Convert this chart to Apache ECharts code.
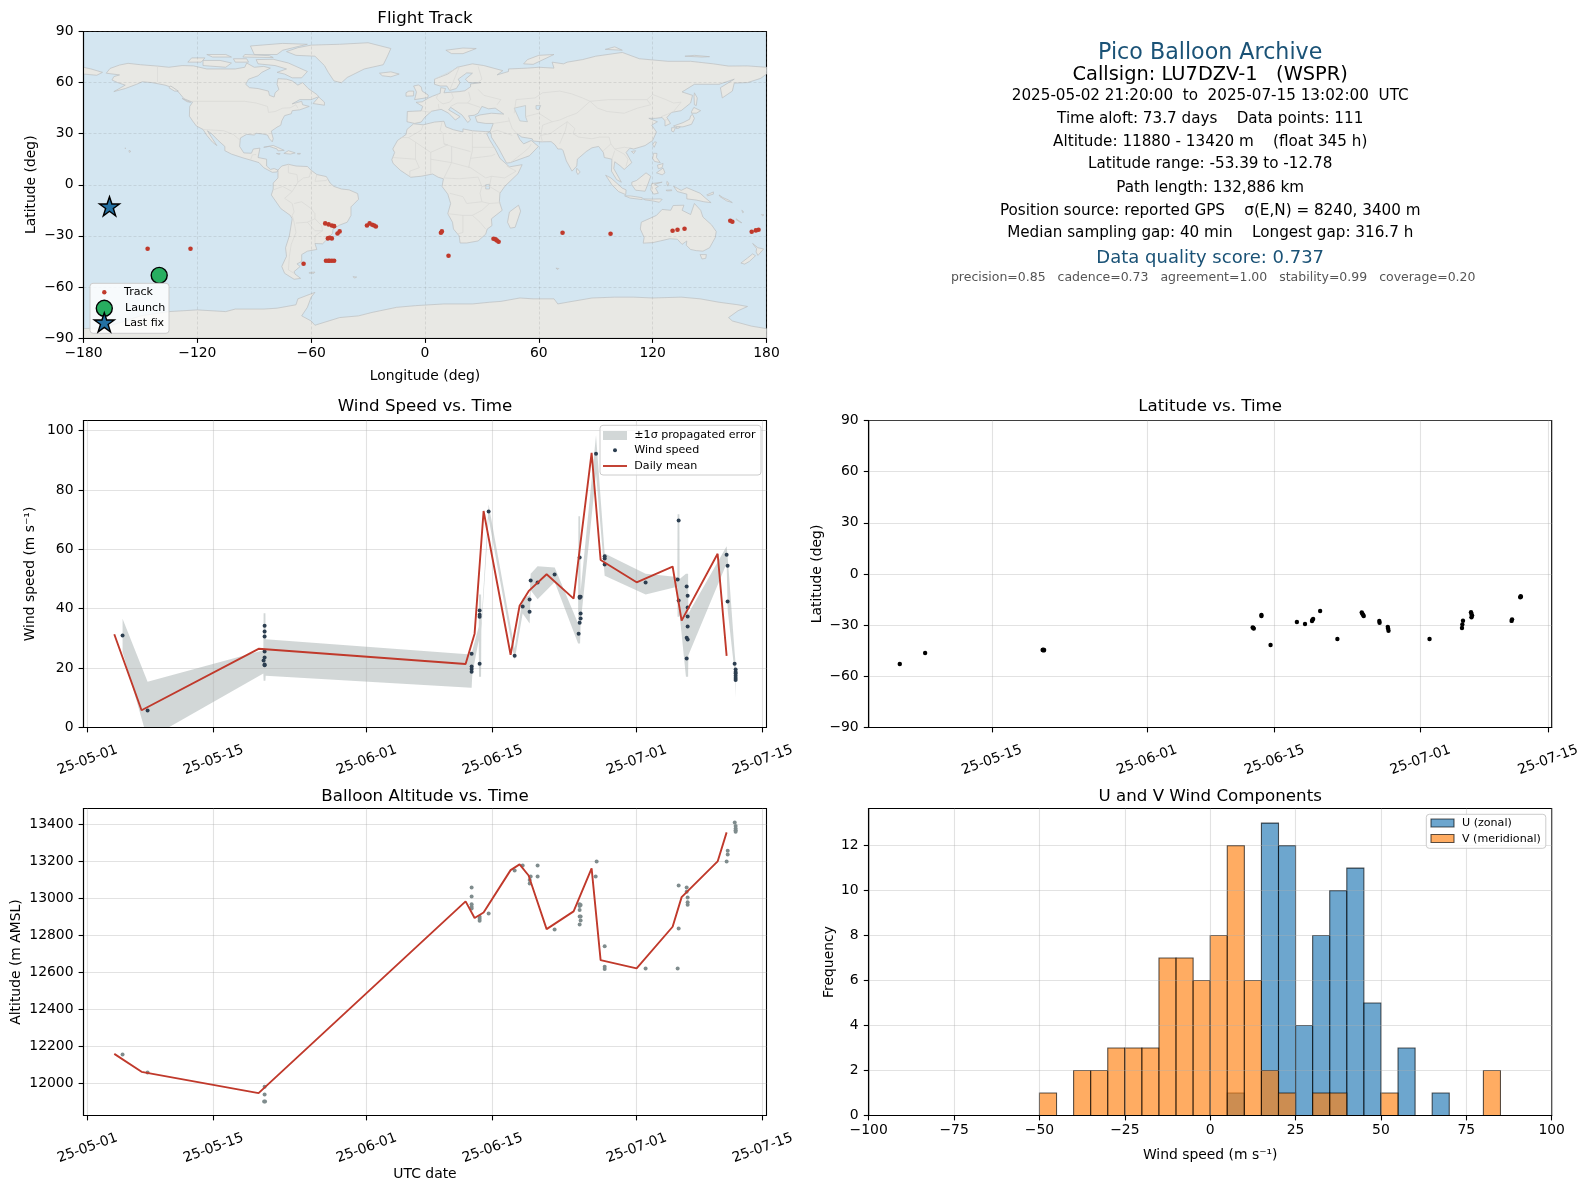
<!DOCTYPE html>
<html>
<head>
<meta charset="utf-8">
<style>html,body{margin:0;padding:0;background:#fff}#c{width:1589px;height:1189px}</style>
<script src="https://cdn.jsdelivr.net/npm/echarts@6/dist/echarts.min.js"></script>
</head>
<body>
<div id="c"></div>
<script>
// ---------- tick labels ----------
const dateTicks = ['2025-05-01','2025-05-15','2025-06-01','2025-06-15','2025-07-01','2025-07-15'];
const lonTicks = [-180,-120,-60,0,60,120,180];
const latTicks = [-90,-60,-30,0,30,60,90];
const windTicks = [0,20,40,60,80,100];
const altTicks = [12000,12200,12400,12600,12800,13000,13200,13400];
const countTicks = [0,2,4,6,8,10,12];
const speedTicks = [-100,-75,-50,-25,0,25,50,75,100];

// ---------- flight track (lon, lat) ----------
const trackLon = [-146.2,-123.6,-64,-52.6,-50.8,-49.1,-47.9,-51.2,-49.1,-50.3,-46.1,-45,-52.2,-51,-50.3,-49.1,-47.9,-30.6,-29.2,-27.8,-25.9,-26.8,8.4,8.9,12.4,36.1,37.2,37.9,38.8,72.5,97.8,130.5,133.1,136.8,160.9,162,172.2,174.4,175.8];
const trackLat = [-37.6,-37.6,-46.4,-22.7,-23.3,-23.9,-24.3,-31.5,-31.5,-31.1,-28.6,-27.4,-44.6,-44.6,-44.6,-44.6,-44.6,-23.9,-22.7,-23.5,-24.5,-23.9,-28.2,-27.4,-41.7,-31.7,-32.1,-32.7,-33.5,-28.2,-28.8,-27,-26.4,-25.8,-21.1,-21.7,-27.6,-26.8,-26.4];
const launchFix = [-140.1,-53.2];
const lastFix = [-166.3,-13.1];

// ---------- wind speed: samples, days after 2025-05-01 ----------
const windDays = [3.89,6.67,19.67,19.67,19.67,19.67,19.67,19.56,19.67,19.67,42.67,42.67,42.67,42.67,43.56,43.56,43.56,43.56,44.56,47.45,48.34,49.11,49.11,49.23,50,51.89,54.56,54.67,54.78,54.78,54.67,54.78,54.67,54.67,56.49,57.45,57.45,57.45,62,65.56,65.67,65.67,66.56,66.67,66.67,66.67,66.67,66.67,66.56,66.56,71,71.11,71.11,71.89,72,72,72,72,72,72];
const windSpeed = [31,5.7,34.3,32.3,30.6,25.6,23.6,22.6,21.2,21,24.8,20.5,19.7,18.8,39.4,38,37.3,21.5,72.7,24.2,40.7,43.1,39,49.5,48.8,51.5,31.6,35.3,36.7,38.4,44,44,43.7,57.2,92.2,54.9,56.9,57.7,48.8,49.8,69.7,42.75,30.2,29.6,34,37.4,40.4,44.4,47.5,23.2,58.2,54.5,42.4,21.5,19.5,18.7,18.2,17.4,16.7,16];
// daily mean of wind speed
const meanDays = [2.97,6,19,42,43,44,47,48,49,51,54,56,57,61,65,66,70,71];
const windMean = [31.4,5.8,26.5,21.4,31.6,72.9,24.5,41,45.9,51.6,43.4,92.5,56.4,48.9,54.2,36,58.5,24.1];
// +/- 1 sigma band
const bandDays = [3.89,6.67,19.53,19.56,19.76,19.79,42.6,42.67,42.75,43.46,43.49,43.72,43.75,44.56,47.45,48.34,49.12,49.23,50,51.9,54.5,54.53,54.72,54.78,56.49,57.45,62,65.52,65.55,65.75,65.78,66.48,66.72,66.75,71,71.12,71.9,72];
const bandLow = [25.4,-4,18.2,15.7,15.7,17.4,13.35,13.35,18,29.4,17.1,17.1,32.8,70.4,22.7,38.4,35,46.2,43.2,49,28.3,28.3,28.3,35,85.5,51.1,44.8,47.4,37.3,37.3,38,17.1,17.1,24.35,55.2,39.5,18.2,10.1];
const bandHigh = [36.6,15.4,26,38.5,38.5,29.7,24.57,24.57,26,33.9,44.8,44.8,35,75.1,26.6,43.4,44.55,51.8,54.3,53.9,35,71.1,71.1,46,98.4,58.6,51.8,50.7,71.8,71.8,50,51.8,51.8,38.4,61,57.4,24.9,21.6];

// ---------- latitude vs time ----------
const latDays = [3.89,6.67,19.56,19.62,19.67,19.72,42.6,42.67,42.72,43.56,43.56,44.56,47.45,48.34,49.11,49.15,49.23,50,51.89,54.56,54.62,54.7,54.78,56.49,56.52,57.42,57.45,57.5,62,65.56,65.6,65.67,66.55,66.6,66.67,66.6,71,71.05,71.95,72,72.02];
const latValue = [-52.8,-46.3,-44.6,-44.4,-44.8,-44.6,-31.3,-31.7,-32,-24.05,-24.6,-41.6,-28.15,-29.3,-27.6,-27,-26.4,-21.7,-38.1,-22.6,-23.2,-23.9,-24.6,-27.6,-28.6,-31,-31.9,-33.3,-38.1,-31.7,-29.6,-27.4,-22.4,-23.4,-24.4,-25.4,-27.5,-26.6,-13.6,-13,-13.4];

// ---------- altitude vs time ----------
const altDays = [3.89,6.67,19.67,19.67,19.62,19.72,42.67,42.67,42.67,42.67,42.67,43.56,43.56,43.56,44.56,47.45,48.34,49.12,49.12,49.23,50,50,51.89,54.67,54.67,54.78,54.67,54.78,54.67,54.78,54.67,56.56,56.45,57.45,57.45,57.45,62,65.67,65.67,65.56,66.56,66.56,66.67,66.67,66.67,71,71.12,71.12,71.9,72,72,72,72];
const altValue = [12157,12059,11982,11941,11903,11903,13059,13011,12968,12955,12945,12901,12890,12879,12919,13151,13178,13081,13099,13119,13178,13119,12832,12968,12959,12964,12937,12903,12903,12881,12859,13200,13119,12741,12631,12618,12622,13070,12838,12622,13059,13036,13005,12980,12966,13200,13258,13238,13411,13391,13378,13369,13360];
const altMeanDays = [2.97,6,19,42,43,44,47,48,49,51,54,56,57,61,65,66,70,71];
const altMean = [12160,12063,11948,12984,12894,12924,13153,13184,13124,12834,12930,13162,12667,12622,12847,13007,13200,13357];

// ---------- histogram: 5 m/s bins starting at -50 ----------
const binStarts = [-50,-45,-40,-35,-30,-25,-20,-15,-10,-5,0,5,10,15,20,25,30,35,40,45,50,55,60,65,70,75,80];
const uCounts = [0,0,0,0,0,0,0,0,0,0,0,1,0,13,12,4,8,10,11,5,0,3,0,1,0,0,0];
const vCounts = [1,0,2,2,3,3,3,7,7,6,8,12,6,2,1,0,1,1,0,0,1,0,0,0,0,0,2];

// ---------- text ----------
const headerLines = ['Pico Balloon Archive','Callsign: LU7DZV-1   (WSPR)','2025-05-02 21:20:00  to  2025-07-15 13:02:00  UTC','Time aloft: 73.7 days    Data points: 111','Altitude: 11880 - 13420 m    (float 345 h)','Latitude range: -53.39 to -12.78','Path length: 132,886 km','Position source: reported GPS    σ(E,N) = 8240, 3400 m','Median sampling gap: 40 min    Longest gap: 316.7 h','Data quality score: 0.737','precision=0.85   cadence=0.73   agreement=1.00   stability=0.99   coverage=0.20'];

// ---------- base map outlines (lon, lat) ----------
const landPolygons = [
 [[-168,65.5],[-166,68.3],[-161,70.3],[-156.5,71.3],[-150,70.5],[-141,69.7],[-135,69],[-128,70],[-122,69.8],[-115,68],[-108,68],[-100,68],[-95,69],[-94,71.5],[-90,69],[-85,69.5],[-81.5,68.5],[-86,66],[-88,64],[-93,62],[-94.5,59],[-92.5,57],[-88,56.5],[-82.5,55],[-82,52.5],[-79.5,51.5],[-79,54],[-77,56],[-78,59],[-77.5,62.3],[-73,62],[-70,61],[-67,58.5],[-64.5,60],[-61.5,56.5],[-57,53],[-56,51.7],[-60,50],[-66,50],[-70,47.5],[-65,49],[-64.5,47],[-61,46],[-66,44],[-70,43.5],[-70.5,41.7],[-74,40.6],[-75.5,37.5],[-76,35],[-78,33.8],[-81,31.5],[-80,27],[-80.5,25.2],[-82,27],[-83,29.2],[-85.5,29.8],[-89,30.2],[-90,29.2],[-94,29.6],[-97.3,27.5],[-97.7,22.5],[-95.5,18.7],[-91.5,18.5],[-90.5,21],[-87,21.5],[-88,16],[-83.5,15],[-83.5,11],[-81.5,9],[-79.5,9.5],[-77.5,8.6],[-78,7.5],[-80.5,7.3],[-85,10],[-87.5,13],[-92,14.5],[-96,15.8],[-102,18],[-105.5,20],[-105.5,22.5],[-109,26],[-112.5,30],[-114.7,31.7],[-112,27],[-109.7,23],[-112,25],[-115,29],[-117,32.5],[-120.5,34.5],[-122.5,37.5],[-124.2,40.3],[-124,46],[-122.5,48.5],[-127,50.5],[-130,54.5],[-133,57],[-137,58.5],[-144,60],[-149,60.5],[-152,59],[-158,56.5],[-164,54.7],[-158,58.5],[-162,60],[-165,61.5],[-164,63.5],[-161,64.5],[-168,65.5]],
 [[-73,78.2],[-68,76],[-58,75.5],[-53,70],[-51,66],[-48,61],[-44,59.9],[-41,63],[-32,68],[-22,70.5],[-20,75],[-18,80],[-30,83.4],[-45,82.5],[-60,82],[-67,80.5],[-73,78.2]],
 [[-80,73.7],[-72,71.5],[-67,69],[-62,66.5],[-65,62.8],[-70,62.8],[-74,65],[-78,66],[-73,68],[-79,70],[-88,71],[-89,73.5],[-80,73.7]],
 [[-117,70],[-105,69],[-102,71.5],[-108,73],[-117,73]],
 [[-125,72],[-118,72],[-116,74.5],[-123,74.5]],
 [[-90,76.5],[-78,76.5],[-75,79],[-62,82.5],[-75,83],[-92,81.5]],
 [[-96,75],[-80,74.7],[-82,75.8],[-95,76.5]],
 [[-112,75],[-102,75],[-105,76.5],[-115,76.5]],
 [[-100,72],[-93,72],[-94,74],[-101,74]],
 [[-59,47.7],[-53,46.7],[-53,48.5],[-56,51.5]],
 [[-85,22],[-80,23.1],[-74.2,20.2],[-77.5,19.9],[-78,21],[-82,22.5]],
 [[-74.4,18.4],[-72,20],[-68.4,18.7],[-71,18]],
 [[-67.2,18.4],[-65.7,18.4],[-65.8,18],[-67.2,18]],
 [[-78.3,18.4],[-76.3,18.2],[-77,17.8]],
 [[-156,20.2],[-155,19.6],[-155.8,19],[-156,19.7]],
 [[-158.2,21.6],[-157.7,21.4],[-158.1,21.3]],
 [[-134,58],[-130,55],[-132,55],[-135,57]],
 [[-128,50.7],[-123.5,48.4],[-125.5,48.8]],
 [[-77.5,8.6],[-75.5,11],[-72,12],[-68,11],[-62,10.7],[-60,8.5],[-57,6],[-52,4.8],[-50,1],[-48,-1],[-44,-2.5],[-40,-3],[-35.5,-5.2],[-35,-8.5],[-39,-13],[-39,-18],[-41,-22],[-45,-23.7],[-48.5,-26],[-48.7,-28.5],[-52,-32.5],[-54,-34.7],[-58,-34.5],[-57,-38],[-62,-39],[-65,-41],[-65,-45],[-67.5,-46.5],[-65.8,-48],[-69,-51],[-68.5,-52.5],[-65.5,-55],[-69,-55.5],[-74,-52],[-75.5,-48],[-73,-42],[-73.5,-37],[-71.5,-30],[-70,-20],[-71,-18],[-76,-14],[-81,-6],[-80,-2.5],[-80,1],[-77.5,4],[-77.5,7]],
 [[-61,-51.5],[-58,-51.3],[-58.5,-52],[-61,-52]],
 [[-6,35.8],[-1,35.2],[5,36.8],[10,37.3],[11,34],[15,32.3],[20,31],[20,32.8],[25,31.7],[32,31.2],[34.3,31.2],[32.5,30],[34,26.5],[37,21],[39.5,15.5],[43,12],[44.5,10.5],[51.2,11.8],[49,6.5],[42,-1],[39.5,-5],[39.2,-10],[40.7,-15],[35,-20],[35.3,-24],[32.8,-26],[32,-29],[28,-33],[22,-34.2],[18.5,-34.2],[18,-30],[15,-26],[14.5,-22],[12,-17],[13.5,-11],[12,-5.5],[9,-1],[9.7,3.5],[7,4.4],[4,6.3],[-2,5],[-7.5,4.4],[-13,8.5],[-16.8,12.5],[-17.5,14.7],[-16,19],[-17,21],[-14.5,26],[-10,29.5],[-9.5,32.5]],
 [[49.3,-12],[50.4,-15.5],[47.5,-25],[45,-25.5],[43.5,-22],[44.5,-16]],
 [[-9.5,37],[-9.3,43],[-2,43.4],[-1.2,46],[-4.7,48.4],[-1.5,48.7],[2,51],[4,52],[8,53.7],[8.3,57],[10.8,56.5],[10,54],[12,54.2],[18,54.7],[21,55.2],[24,57.5],[24,59.2],[29.5,60],[23,60],[21.3,62],[25,65.5],[22,65.7],[17.5,62],[18.5,60],[16.5,56.5],[13,55.4],[11.5,58],[8,58],[5,59],[5,62],[12,65],[17,69],[25,71],[31,70],[41,67],[38,64.5],[44,66.5],[44,68],[54,68.5],[60,69],[68,68.5],[67,72],[73,71],[75,72],[83,73.5],[90,75.5],[104,77.7],[113,74],[128,72.5],[140,72.5],[152,71],[160,69.7],[170,69.8],[180,69],[180,65],[177,62.5],[170,60],[163,59.7],[162,55],[156.7,51],[155.7,57],[163,62],[155,59],[142,59],[135.5,54.5],[141,52.5],[140,48],[135,43.5],[130,42.5],[127.5,39.5],[129.4,36],[126.5,34.5],[126.5,37.5],[125,39.5],[121.5,39],[118,39],[122.5,37],[119.5,35],[122,31],[120,26],[116,23],[110,21],[108,21.5],[106,19],[109,13],[105,9],[103,11],[100,13.5],[99.5,9.5],[103.5,1.5],[101,3],[98.3,8],[98.5,15],[94.5,16],[94,19],[91.5,22.5],[88,21.7],[85,19.5],[80.3,15],[80,11],[77.5,8],[74.5,14],[72.8,20],[72,21],[70,21],[68.5,23.5],[66.5,25.3],[61,25.2],[57,25.7],[56.5,27],[51,28],[48.5,30],[50,26.5],[52,24],[56,26],[59.8,22.5],[55,17],[45,13],[43,12.7],[39,21],[35,28],[34.9,29.5],[34.3,31.2],[36,36],[32,36],[27.5,36.8],[26.5,40],[29,41],[35,42],[41.5,41.5],[37,45],[33.5,44.6],[30,46],[28,42],[26,40.8],[23,40.5],[24,38],[22.5,36.6],[19.5,41],[13.5,45.5],[12.5,44],[18.5,40],[16,38],[12.5,42],[8.5,44.3],[3.5,43.2],[0,39.8],[-2,36.8],[-5.5,36]],
 [[-5.5,50],[1.5,51.2],[1.7,52.7],[-1.5,55],[-2,57.5],[-3.5,58.6],[-6,58],[-4.5,54.5],[-5,52]],
 [[-10,52],[-6,52.2],[-6,55],[-8.5,55],[-10,54]],
 [[-24,65.5],[-18,66.3],[-13.6,65],[-18,63.4],[-22.5,64]],
 [[11,79],[20,80.3],[27,80],[20,77],[14,77]],
 [[52,71],[57,70.7],[68,76.5],[60,76],[54,73.5]],
 [[95,79.5],[104,79],[100,81]],
 [[137,75.5],[146,75],[150,75.2],[142,76]],
 [[-180,65],[-173,64.3],[-170,66],[-176,68],[-180,69]],
 [[142,54],[143.5,51],[143,46.5],[142,47],[141.8,52]],
 [[141,41.3],[142,39],[140.5,35.5],[136,34],[132,34],[131,34.5],[136,36.5],[139.5,38.5],[140,40.5]],
 [[140.5,43],[141.7,45.4],[145.3,43.5],[143,42],[140.5,42]],
 [[130,33.5],[132,33.5],[131,31],[130,31.5]],
 [[132.5,34],[134.5,34],[134,33.3],[132.5,33]],
 [[121,25.2],[122,25],[120.8,22],[120,23.5]],
 [[108.8,19.5],[111,20],[110,18.3]],
 [[120.5,18.5],[122.3,18.4],[122,16],[124,13],[121,13.7],[120,15.5]],
 [[122,7],[125.5,9.8],[126.5,7],[125,5.8]],
 [[122.5,11.5],[125.5,12.5],[125,10],[123,9.5]],
 [[80,9.7],[81.8,7.5],[80.6,6],[79.8,7.5]],
 [[95.2,5.6],[98,4],[104,-2],[106,-3],[105.8,-5.8],[102,-4],[98.5,0]],
 [[105.2,-6.5],[108.5,-6.6],[114.5,-7.6],[114.5,-8.7],[108,-7.8]],
 [[109,1.5],[111.5,2.5],[116.5,7],[119,5],[117.7,1],[116,-3.8],[111,-3.2],[109,0]],
 [[119.5,0.7],[125,1.5],[121,0.3],[123,-1],[121.5,-2],[123,-5],[120.5,-5.5],[119,-3]],
 [[131,-0.8],[135,-3.3],[138,-1.7],[145,-5],[148,-8],[150.8,-10.5],[147,-10],[143,-9],[138,-8.3],[138,-5.5],[133,-4],[132,-2.5]],
 [[115,-8.3],[120,-8.4],[124,-8.3],[125,-8.6],[123.5,-10.3],[120,-9.5],[116,-8.9]],
 [[127,-3.2],[130,-3],[130,-3.5],[127.5,-3.6]],
 [[127.5,2],[128.5,1],[128,-0.8],[127.5,0.5]],
 [[148.5,-6],[152,-4.2],[152,-5.5],[149,-6.5]],
 [[155,-6],[157,-7.5],[160,-9],[162,-10.5],[159,-9.5],[155.5,-7]],
 [[164,-20],[167,-22.3],[166.5,-22.3],[164,-20.5]],
 [[167,-15],[168,-16],[167.5,-16.5]],
 [[177.3,-17.5],[178.6,-17.7],[178,-18.3]],
 [[114,-22],[122,-18],[125,-14.5],[129.5,-15],[130.8,-12.2],[136.5,-12],[135.5,-15],[140,-17.5],[142,-11],[145.3,-15],[146.5,-19],[151,-23.5],[153.5,-27.5],[153,-31],[150,-37],[146.5,-39],[143,-38.7],[140,-38],[137.7,-35.5],[138,-33],[135.5,-35],[133,-32],[129,-31.7],[124,-33],[120,-34],[115,-34.3],[115.5,-31],[113.5,-26]],
 [[145,-41],[148.3,-41],[148,-43.2],[146,-43.6]],
 [[172.7,-34.5],[175.5,-37],[178.5,-37.7],[175.5,-41.5],[174.5,-39.5],[174.8,-37.5]],
 [[172.7,-40.6],[174.2,-41.7],[171,-45],[168.5,-46.6],[166.5,-46],[170,-43]],
 [[69,-49],[70.5,-49.2],[70,-49.8]],
 [[-38,-54],[-36,-54.2],[-37,-54.8]],
 [[-180,-84.5],[-170,-84],[-158,-80],[-150,-77],[-135,-74.5],[-120,-73.5],[-105,-74.5],[-100,-73],[-85,-73],[-78,-72.5],[-68,-70.5],[-67,-67],[-58,-63.2],[-60,-66],[-62,-72],[-65,-77],[-60,-80],[-58,-82.5],[-45,-78],[-35,-77],[-28,-75],[-15,-72],[-5,-71],[10,-70],[25,-70],[34,-69],[40,-68.5],[50,-66.5],[57,-67],[68,-67],[70,-70],[75,-69],[88,-66.5],[100,-66],[110,-66],[120,-66.5],[135,-66],[145,-67],[155,-69],[165,-70.5],[170,-71.5],[165,-74],[160,-78],[162,-80],[172,-83],[180,-84.5],[180,-90],[-180,-90]]
];
const waterPolygons = [
 [[47,45],[53,46.5],[53,40],[54,37],[50,37.5],[49,40]],
 [[58.5,46.5],[61,46.5],[60,44],[58.5,44.5]],
 [[32,0],[34,0.3],[34,-2.5],[32,-2.5]]
];
const borderLines = [
 [[-141,69.7],[-141,60.3]],[[-123,49],[-95,49],[-89,48],[-83,46],[-82.5,42.5],[-79,43],[-75,45],[-71,45.2],[-68,47],[-67,45]],
 [[-117,32.5],[-106,31.7],[-101,29.5],[-97.3,26]],[[-92,14.5],[-91,17.5],[-89,17.8]],
 [[-70,-18],[-69,-22],[-68,-28],[-70.5,-35],[-71.5,-42],[-72,-50],[-69,-52]],[[-80,-3],[-75,-1],[-70,-4],[-74,-8],[-70,-11],[-69,-16],[-70,-18]],
 [[-72,12],[-72,7],[-67.5,6],[-67,1.5],[-70,-4]],[[-60,8.5],[-61,4.5],[-64,4],[-67,1.5]],[[-57,6],[-58,2],[-52,2.5],[-51,4]],
 [[-69,-11],[-65,-10],[-60,-14],[-58,-17],[-58,-20],[-62,-22],[-68,-22.5]],[[-58,-20],[-54.5,-24],[-54,-27],[-58,-27],[-62,-22]],[[-54,-27],[-58,-30],[-58,-34]],
 [[-8.7,27.7],[-2,32],[-1,35]],[[9,37],[8,32],[9.5,30],[10,24],[12,23.5]],[[12,23.5],[3,19],[-5,25],[-8.7,27.7],[-13,27.7]],[[25,31.7],[25,20],[24,15.5],[23,10]],[[25,22],[37,22]],
 [[10,24],[14,22.5],[24,19.5]],[[3,19],[3,15],[14,13],[14,22.5]],[[-17,16],[-5,15],[-5,25]],[[-5,15],[-3,10],[-8,8],[-8,5]],[[3,15],[3,6.5]],[[14,13],[10,4]],[[14,13],[24,10],[32,4],[35,5],[42,4],[48,8],[43,11]],
 [[24,15.5],[35,17],[37,18]],[[35,5],[34,-1],[39.5,-4.7]],[[34,-1],[30,-1],[29,-5],[30,-10],[34,-11],[40,-10.5]],[[13,-5],[20,-7],[22,-11],[30,-10]],[[12,-17],[20,-18],[25,-18],[30,-15],[34,-11]],
 [[20,-18],[20,-28],[17,-29]],[[25,-18],[29,-22],[32,-26]],[[10,4],[18,3.5],[28,4.5],[30,-1]],
 [[23,54.5],[24,50],[22.5,48],[29,45.5]],[[14,54],[15,51],[13,48.5],[9.5,47.5],[7.5,49],[6,51],[7,53.5]],[[-2,43.4],[3,42.5]],[[7.5,44],[7,47.5]],[[13.5,46],[17,48],[22.5,48]],[[13,55.4],[18,69]],[[5,62],[18,69]],
 [[28,69.5],[30,62],[28,60]],[[28,56],[31,52.5],[40,50],[38,47]],[[47,42],[48,50],[58,51],[62,54],[71,55],[77,53.5],[83,51],[87,49]],[[87,49],[97,50],[106,50],[117,50],[120,53],[127,50],[131,48],[135,48.5],[131,43]],
 [[87,49],[91,45],[96,43],[105,42],[112,45],[119,47],[117,50]],[[53,40],[60,42],[67,37],[62,35],[61,29],[62,25]],[[67,37],[71,38],[75,40],[80,42],[87,49]],[[75,37],[71,34],[66,30],[61,29]],[[75,37],[79,33],[78,30],[81,28],[88,27],[92,28],[97,28],[98,24],[94,20]],[[71,24],[74,32],[75,37]],
 [[48.5,30],[46,33],[44.5,37.5],[44,39.5]],[[36,36],[42,37],[44.5,37.5]],[[46,29],[38,32],[35,31]],[[45,13],[52,19],[55,22],[56,24]],[[98,24],[100,21],[105,22],[108,21.5]],[[100,21],[105,18],[107,15],[106,11]],[[98.5,15],[100,20]],[[124.5,40],[128,41.5],[130,42.5]],[[126,38],[128.5,38.3]]
];

// ---------- helpers ----------
const FONT = '"DejaVu Sans"';
const DAY0 = Date.UTC(2025,4,1);
const DAYMS = 86400000;
const toTime = d => DAY0 + d * DAYMS;
const zipTime = (days, vals) => days.map((d, i) => [toTime(d), vals[i]]);
const zip = (a, b) => a.map((v, i) => [v, b[i]]);
const dateTickMs = dateTicks.map(s => Date.parse(s + 'T00:00:00Z'));
const fmtDate = v => new Date(v).toISOString().slice(2, 10);
const fmtNum = v => String(v).replace('-', '\u2212');

const X1 = 83.5, X2 = 868.7, W = 683;
const Y1 = 31.5, Y2 = 420.5, Y3 = 808.5, H = 307;
const grids = [
 {left:X1, top:Y1, width:W, height:306.5, backgroundColor:'#d4e6f1'},
 {left:X1, top:Y2, width:W, height:H},
 {left:X2, top:Y2, width:W, height:H},
 {left:X1, top:Y3, width:W, height:H},
 {left:X2, top:Y3, width:W, height:H}
].map(g => Object.assign({show:true, borderColor:'#000', borderWidth:1.1, containLabel:false}, g));

const gridLine = {show:true, lineStyle:{color:'rgba(176,176,176,0.36)', width:1.1}};
const mapLine = {show:true, lineStyle:{color:'rgba(120,120,120,0.3)', width:0.6, type:[3,2]}};
const axisCommon = {
  axisLine:{show:true, onZero:false, lineStyle:{color:'#000', width:1.1}},
  axisTick:{show:true, inside:false, length:4.9, lineStyle:{color:'#000', width:1.1}},
  axisLabel:{show:true, color:'#000', fontFamily:FONT, fontSize:13.9},
  nameLocation:'middle',
  nameTextStyle:{color:'#000', fontFamily:FONT, fontSize:13.9},
  z:3
};
function timeAxis(gridIndex, min, max, name) {
  return Object.assign({}, axisCommon, {
    type:'value', gridIndex, min:toTime(min), max:toTime(max),
    name:name || '', nameGap:49,
    splitLine:gridLine,
    axisTick:Object.assign({}, axisCommon.axisTick, {customValues:dateTickMs}),
    axisLabel:Object.assign({}, axisCommon.axisLabel, {customValues:dateTickMs, rotate:20, align:'center', verticalAlign:'middle', margin:32.5, hideOverlap:false, formatter:v => fmtDate(v)})
  });
}
function valAxis(gridIndex, dim, min, max, ticks, name, gap, split) {
  const lab = dim === 'x' ? {margin:8} : {margin:10, padding:[2,0,0,0]};
  return Object.assign({}, axisCommon, {
    type:'value', gridIndex, min, max, name, nameGap:gap,
    splitLine:split || gridLine,
    axisTick:Object.assign({}, axisCommon.axisTick, {customValues:ticks}),
    axisLabel:Object.assign({}, axisCommon.axisLabel, lab, {customValues:ticks, formatter:fmtNum})
  });
}

// all outlines of a base-map layer are drawn as one group
function mapLayer(name, list, type, style, z) {
  return {
    name, type:'custom', xAxisIndex:0, yAxisIndex:0, clip:true, silent:true, z,
    data:[[0,0]],
    renderItem:(params, api) => ({
      type:'group',
      children:list.map(poly => ({
        type, shape:{points:poly.map(p => api.coord(p))}, style:Object.assign({}, style)
      }))
    })
  };
}
function histSeries(name, counts, xi, yi, fill) {
  const rows = binStarts.map((b, i) => [b, b + 5, counts[i]]).filter(r => r[2] > 0);
  return {
    name, type:'custom', xAxisIndex:xi, yAxisIndex:yi, clip:true, silent:true, z:2,
    data:rows, encode:{x:[0,1], y:2},
    renderItem:(p, api) => {
      const a = api.coord([api.value(0), 0]), b = api.coord([api.value(1), api.value(2)]);
      return {type:'rect', shape:{x:a[0], y:b[1], width:b[0]-a[0], height:a[1]-b[1]},
        style:{fill, stroke:'rgba(0,0,0,0.65)', lineWidth:1.1}};
    }
  };
}

const STAR = 'path://M50 0 L61.8 35.3 L98.9 35.3 L68.8 57.1 L80.2 92.7 L50 70.6 L19.8 92.7 L31.2 57.1 L1.1 35.3 L38.2 35.3 Z';
const BAND_FILL = 'rgba(127,140,141,0.35)';

// ---------- titles ----------
const panelTitle = (text, cx, cy) => ({text, left:cx, top:cy-10, textAlign:'center', padding:0,
  textStyle:{fontFamily:FONT, fontSize:16.67, fontWeight:'normal', color:'#000'}});
const CX = X2 + W/2;
const headerY = [42,65,88.5,111.5,134.5,157,180.5,204,226,249,271.5];
const headerX = [CX,CX,CX,CX,CX,CX,CX,CX,CX,CX,CX+3];
const headerSize = [22.2,19.4,15.2,15.2,15.2,15.2,15.2,15.2,15.2,18,12.5];
const headerColor = ['#1a5276','#000','#000','#000','#000','#000','#000','#000','#000','#1a5276','#555555'];
const titles = [
 panelTitle('Flight Track', X1+W/2, 20.3),
 panelTitle('Wind Speed vs. Time', X1+W/2, 408.5),
 panelTitle('Latitude vs. Time', CX, 408.5),
 panelTitle('Balloon Altitude vs. Time', X1+W/2, 798),
 panelTitle('U and V Wind Components', CX, 798)
].concat(headerLines.map((t, i) => ({text:t, left:headerX[i], top:headerY[i], textAlign:'center', padding:0,
  textStyle:{fontFamily:FONT, fontSize:headerSize[i], fontWeight:'normal', color:headerColor[i]}})));

// ---------- legends ----------
function legendBox(x, y, w, h) {
  return {type:'rect', shape:{x, y, width:w, height:h, r:3}, z:20,
    style:{fill:'rgba(255,255,255,0.8)', stroke:'#cccccc', lineWidth:1}};
}
function legendText(text, x, y, size) {
  return {type:'text', x, y, z:21, style:{text, fill:'#000', font:size+'px '+FONT, verticalAlign:'middle'}};
}
function starPoints(cx, cy, r) {
  const p = [];
  for (let i = 0; i < 10; i++) {
    const a = -Math.PI/2 + i*Math.PI/5, q = i % 2 ? r*0.382 : r;
    p.push([cx + q*Math.cos(a), cy + q*Math.sin(a)]);
  }
  return p;
}
const graphics = [
 legendBox(90, 283.3, 79, 50),
 {type:'circle', z:21, shape:{cx:104.3, cy:292.3, r:2.2}, style:{fill:'#c0392b'}},
 legendText('Track', 124, 292.3, 11.1),
 {type:'circle', z:21, shape:{cx:104.3, cy:308.3, r:8}, style:{fill:'#27ae60', stroke:'#000', lineWidth:1.4}},
 legendText('Launch', 125, 308.3, 11.1),
 {type:'polygon', z:22, shape:{points:starPoints(104.3, 323.3, 10.5)}, style:{fill:'#2471a3', stroke:'#000', lineWidth:1.4}},
 legendText('Last fix', 124, 323.3, 11.1),

 legendBox(600, 425.3, 161, 49.7),
 {type:'rect', z:21, shape:{x:603, y:431, width:24, height:9}, style:{fill:BAND_FILL}},
 legendText('±1σ propagated error', 634.3, 435.5, 11.1),
 {type:'circle', z:21, shape:{cx:615, cy:450.3, r:2}, style:{fill:'#2c3e50'}},
 legendText('Wind speed', 634.3, 450.5, 11.1),
 {type:'line', z:21, shape:{x1:603, y1:466, x2:627, y2:466}, style:{stroke:'#c0392b', lineWidth:1.9}},
 legendText('Daily mean', 634.3, 466, 11.1),

 legendBox(1426.3, 814.3, 119.5, 34),
 {type:'rect', z:21, shape:{x:1431, y:819, width:23, height:8}, style:{fill:'rgba(31,119,180,0.65)', stroke:'rgba(0,0,0,0.65)', lineWidth:1.1}},
 legendText('U (zonal)', 1462, 823, 11.1),
 {type:'rect', z:21, shape:{x:1431, y:834.5, width:23, height:8}, style:{fill:'rgba(255,127,14,0.65)', stroke:'rgba(0,0,0,0.65)', lineWidth:1.1}},
 legendText('V (meridional)', 1462, 838.7, 11.1)
];

// ---------- chart ----------
const LAND_STYLE = {fill:'#e8e8e4', stroke:'#bcbfc0', lineWidth:0.7};
const dot = (color, extra) => Object.assign({color, opacity:1}, extra || {});
const option = {
  animation:false, useUTC:true, backgroundColor:'#fff',
  textStyle:{fontFamily:FONT},
  title:titles, grid:grids, graphic:graphics, tooltip:{show:false}, legend:{show:false},
  xAxis:[
    valAxis(0,'x',-180,180,lonTicks,'Longitude (deg)',31,mapLine),
    timeAxis(1,-0.45,75.43),
    timeAxis(2,0.48,75.4),
    timeAxis(3,-0.45,75.43,'UTC date'),
    valAxis(4,'x',-100,100,speedTicks,'Wind speed (m s⁻¹)',33)
  ],
  yAxis:[
    valAxis(0,'y',-90,90,latTicks,'Latitude (deg)',45,mapLine),
    valAxis(1,'y',0,103.37,windTicks,'Wind speed (m s⁻¹)',46),
    valAxis(2,'y',-90,90,latTicks,'Latitude (deg)',44),
    valAxis(3,'y',11827,13486,altTicks,'Altitude (m AMSL)',60),
    valAxis(4,'y',0,13.65,countTicks,'Frequency',32)
  ],
  series:[
    mapLayer('Land', landPolygons, 'polygon', LAND_STYLE, 1),
    mapLayer('Lakes', waterPolygons, 'polygon', {fill:'#d4e6f1', stroke:'#bcbfc0', lineWidth:0.6}, 1.5),
    mapLayer('Borders', borderLines, 'polyline', {fill:'none', stroke:'#d9d9d5', lineWidth:0.7}, 1.6),
    {name:'Track', type:'scatter', xAxisIndex:0, yAxisIndex:0, z:5, symbolSize:4.6, itemStyle:dot('#c0392b'), data:zip(trackLon,trackLat), silent:true},
    {name:'Launch', type:'scatter', xAxisIndex:0, yAxisIndex:0, z:6, symbolSize:16, itemStyle:dot('#27ae60',{borderColor:'#000', borderWidth:1.4}), data:[launchFix], silent:true},
    {name:'Last fix', type:'scatter', xAxisIndex:0, yAxisIndex:0, z:6, symbol:STAR, symbolSize:[20,19], symbolOffset:[0,'-4%'], itemStyle:dot('#2471a3',{borderColor:'#000', borderWidth:1.4}), data:[lastFix], silent:true},

    {name:'±1σ propagated error', type:'custom', xAxisIndex:1, yAxisIndex:1, clip:true, silent:true, z:1,
     data:bandDays.map((d,i)=>[toTime(d),bandLow[i],bandHigh[i]]),
     renderItem:(params, api) => {
       if (params.dataIndex !== 0) return null;
       const up = bandDays.map((d,i)=>api.coord([toTime(d),bandHigh[i]]));
       const lo = bandDays.map((d,i)=>api.coord([toTime(d),bandLow[i]])).reverse();
       return {type:'polygon', shape:{points:up.concat(lo)}, style:{fill:BAND_FILL}};
     }},
    {name:'Wind speed', type:'scatter', xAxisIndex:1, yAxisIndex:1, z:4, symbolSize:4, itemStyle:dot('#2c3e50'), data:zipTime(windDays,windSpeed), silent:true},
    {name:'Daily mean', type:'line', xAxisIndex:1, yAxisIndex:1, z:5, showSymbol:false, symbol:'none', lineStyle:{color:'#c0392b', width:1.9}, data:zipTime(meanDays,windMean), silent:true},

    {name:'Latitude', type:'scatter', xAxisIndex:2, yAxisIndex:2, z:4, symbolSize:4.4, itemStyle:dot('#000'), data:zipTime(latDays,latValue), silent:true},

    {name:'Altitude', type:'scatter', xAxisIndex:3, yAxisIndex:3, z:4, symbolSize:4, itemStyle:dot('#7f8c8d'), data:zipTime(altDays,altValue), silent:true},
    {name:'Altitude daily mean', type:'line', xAxisIndex:3, yAxisIndex:3, z:5, showSymbol:false, symbol:'none', lineStyle:{color:'#c0392b', width:1.9}, data:zipTime(altMeanDays,altMean), silent:true},

    histSeries('U (zonal)', uCounts, 4, 4, 'rgba(31,119,180,0.65)'),
    histSeries('V (meridional)', vCounts, 4, 4, 'rgba(255,127,14,0.65)')
  ]
};
const chart = echarts.init(document.getElementById('c'), null, {renderer:'canvas', width:1589, height:1189});
chart.setOption(option);

// make sure every land mass really reached the canvas; redraw any whose centre still shows ocean
(function () {
  const cv = document.querySelector('#c canvas');
  if (!cv) return;
  const ctx = cv.getContext('2d'), dpr = chart.getDevicePixelRatio();
  landPolygons.forEach(poly => {
    const c = poly.reduce((s, p) => [s[0] + p[0] / poly.length, s[1] + p[1] / poly.length], [0, 0]);
    const px = chart.convertToPixel({gridIndex:0}, c);
    const d = ctx.getImageData(px[0] * dpr, px[1] * dpr, 1, 1).data;
    if (d[2] > 236) {
      chart.getZr().add(new echarts.graphic.Polygon({
        silent:true, z:4,
        shape:{points:poly.map(p => chart.convertToPixel({gridIndex:0}, p))},
        style:Object.assign({}, LAND_STYLE)
      }));
    }
  });
})();
</script>
</body>
</html>
